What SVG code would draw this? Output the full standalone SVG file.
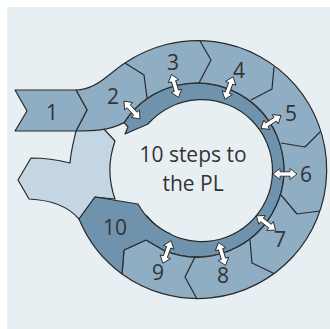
<svg xmlns="http://www.w3.org/2000/svg" width="330" height="329" viewBox="0 0 330 329">
  <style>
    .ln { fill: none; stroke: #2a2a2a; stroke-width: 1.2; stroke-linejoin: round; }
    .seg { fill: #8fadc3; stroke: #2a2a2a; stroke-width: 1.2; stroke-linejoin: round; }
    .dark { fill: #6f93ad; }
    .pale { fill: #c4d5e4; stroke: #2a2a2a; stroke-width: 1.2; stroke-linejoin: round; }
    .lbl { font-family: "Open Sans", "Liberation Sans", sans-serif; font-size: 21px; fill: #333333; text-anchor: middle; }
    .arr { fill: #ffffff; stroke: #2a2a2a; stroke-width: 0.9; stroke-linejoin: round; }
  </style>
  <defs>
    <path id="dbl" d="M-12,0 L-5,-5.5 L-5,-2.2 L5,-2.2 L5,-5.5 L12,0 L5,5.5 L5,2.2 L-5,2.2 L-5,5.5 Z"/>
  </defs>
  <rect x="7" y="7" width="323" height="322" fill="#e8eff3"/>

  <g id="pale">
    <path class="pale" d="M76,131 C74,140 71,150 70,163 C58,160 45,158 31,158 L18,180 L29,199 C50,200 68,206 79,219 L95,197 L115,199 A87 87 0 0 1 115,141 L103,128 L100,122 L78,122 Z"/>
  </g>

  <g id="band">
    <path class="dark" stroke="#2a2a2a" stroke-width="1.2" stroke-linejoin="round" d="M124,122.6 A87 87 0 1 1 135.5,231.5 L146.6,215.6 A71 71 0 1 0 148,124 L125,134 L128,127 Z"/>
  </g>

  <g id="ring">
    <path class="seg" d="M76,90 C96,90 108,74 125,63 A129 129 0 1 1 122,274 L124,250 L146,240 L165,251 A87 87 0 1 0 124,122.6 C108,131 92,131 76,131 L87,110 Z"/>
  </g>

  <g id="step1">
    <path class="seg" d="M15,90 L76,90 L87,110 L76,131 L15,131 L27,111 Z"/>
  </g>

  <g id="step10">
    <path class="dark" d="M95,197 L138,204 A71 71 0 0 0 171,234.3 L165,251 L146,240 L124,250 L122,274 A129 129 0 0 1 79,219 Z"/>
    <path class="ln" d="M122,274 A129 129 0 0 1 79,219 L95,197 L138,204 A71 71 0 0 0 171,234.3 M122,274 L124,250 L146,240 L165,251"/>
  </g>

  <g id="boundaries">
    <polyline class="ln" points="125,63 144,75 147,98"/>
    <polyline class="ln" points="200,41 211,60 199,83"/>
    <polyline class="ln" points="274,67 272,89 251,100"/>
    <polyline class="ln" points="320,132 305,147 281,143"/>
    <polyline class="ln" points="281,195 297,214 320,211"/>
    <polyline class="ln" points="250,240 252,263 273,273"/>
    <polyline class="ln" points="195,257 185,277 197,299"/>
  </g>

  <g id="connectors">
    <use href="#dbl" class="arr" transform="translate(132,110) rotate(48)"/>
    <use href="#dbl" class="arr" transform="translate(175,86) rotate(73)"/>
    <use href="#dbl" class="arr" transform="translate(229,88) rotate(110)"/>
    <use href="#dbl" class="arr" transform="translate(271,122) rotate(147)"/>
    <use href="#dbl" class="arr" transform="translate(285,174) rotate(0)"/>
    <use href="#dbl" class="arr" transform="translate(266,223) rotate(37)"/>
    <use href="#dbl" class="arr" transform="translate(222,254) rotate(73)"/>
    <use href="#dbl" class="arr" transform="translate(167,252) rotate(110)"/>
  </g>

  <g id="labels">
    <text class="lbl" x="52" y="120">1</text>
    <text class="lbl" x="113" y="104">2</text>
    <text class="lbl" x="173" y="70">3</text>
    <text class="lbl" x="239" y="78">4</text>
    <text class="lbl" x="291" y="121">5</text>
    <text class="lbl" x="306" y="182">6</text>
    <text class="lbl" x="280" y="247">7</text>
    <text class="lbl" x="223" y="283">8</text>
    <text class="lbl" x="158" y="280">9</text>
    <text class="lbl" x="115" y="235">10</text>
    <text class="lbl" x="193" y="162">10 steps to</text>
    <text class="lbl" x="193" y="191">the PL</text>
  </g>
</svg>
